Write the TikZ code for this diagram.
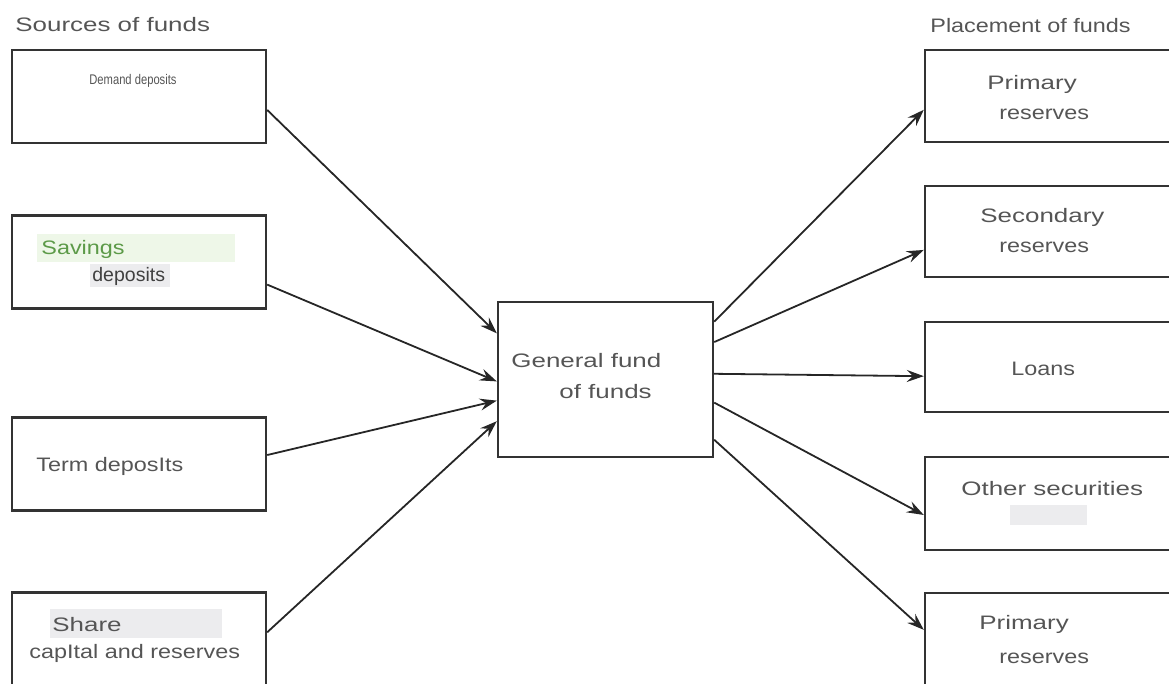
\documentclass[tikz,border=0pt]{standalone}
\usepackage{fontspec}
\usepackage{xcolor}
\usepackage{tikz}
\usetikzlibrary{arrows.meta}

\newfontfamily\lblfont[FakeStretch=1.33]{Liberation Sans}
\newfontfamily\lblnarrow[FakeStretch=1.2]{Liberation Sans}
\newfontfamily\lbltight[FakeStretch=1.0]{Liberation Sans}
\newfontfamily\tinyfont[FakeStretch=0.8]{Liberation Sans}
\definecolor{txtgray}{HTML}{555555}
\definecolor{savgreen}{HTML}{5C9A48}
\definecolor{hlgreen}{HTML}{EEF7E8}
\definecolor{hlgray}{HTML}{ECECEE}

\begin{document}
\begin{tikzpicture}[x=0.5pt,y=-0.5pt,
    box/.style={draw=black!80,line width=1.2pt,minimum width=127pt,minimum height=46.5pt},
    lbl/.style={inner sep=0pt,anchor=base west,text=txtgray,font=\lblfont\fontsize{9.75}{11}\selectfont},
    nlbl/.style={lbl,font=\lblnarrow\fontsize{9.75}{11}\selectfont},
    flow/.style={-{Stealth[length=8.5pt,width=6pt,inset=3pt]},line width=0.9pt,draw=black!85}]
    \useasboundingbox (0,0) rectangle (1169,684);
    \clip (0,0) rectangle (1169,684);

    % highlights
    \fill[hlgreen] (37,234) rectangle (235,262);
    \fill[hlgray] (90,264) rectangle (170,287);
    \fill[hlgray] (50,609) rectangle (222,638);
    \fill[hlgray] (1010,505) rectangle (1087,525);

    % sources
    \node[box] (s1) at (139,96.5) {};
    \node[box] (s2) at (139,262) {};
    \node[box] (s3) at (139,464) {};
    \node[box] (s4) at (139,639) {};

    % general fund
    \node[box,minimum width=107.5pt,minimum height=77.5pt] (g) at (605.5,379.5) {};

    % placement
    \node[box,minimum width=130pt,minimum height=46pt] (p1) at (1055,96) {};
    \node[box,minimum width=130pt,minimum height=45.5pt] (p2) at (1055,231.5) {};
    \node[box,minimum width=130pt,minimum height=45pt] (p3) at (1055,367) {};
    \node[box,minimum width=130pt,minimum height=46.5pt] (p4) at (1055,503.5) {};
    \node[box,minimum width=130pt,minimum height=46pt] (p5) at (1055,639) {};

    % labels
    \node[lbl] (tsrc) at (15,32) {Sources of funds};
    \node[nlbl] (tplc) at (930,33) {Placement of funds};
    \node[lbl,font=\tinyfont\fontsize{7}{8}\selectfont] (t1) at (89,85) {Demand deposits};
    \node[nlbl,text=savgreen] (t2a) at (41,255) {Savings};
    \node[lbl,text=black!75,font=\lbltight\fontsize{9.75}{11}\selectfont] (t2b) at (92,282) {deposits};
    \node[nlbl] (t3) at (36,472) {Term deposIts};
    \node[lbl] (t4a) at (52,632) {Share};
    \node[nlbl] (t4b) at (29,658) {capItal and reserves};
    \node[lbl] (tga) at (511,368) {General fund};
    \node[lbl] (tgb) at (559,399) {of funds};
    \node[lbl] (u1a) at (987,90) {Primary};
    \node[nlbl] (u1b) at (999,120) {reserves};
    \node[lbl] (u2a) at (980,223) {Secondary};
    \node[nlbl] (u2b) at (999,253) {reserves};
    \node[nlbl] (u3) at (1011,376) {Loans};
    \node[lbl] (u4) at (961,495) {Other securities};
    \node[lbl] (u5a) at (979,630) {Primary};
    \node[nlbl] (u5b) at (999,663) {reserves};

    % arrows in
    \draw[flow] (s1.-6) -- (g.157);
    \draw[flow] (s2.-10) -- (g.181);
    \draw[flow] (s3.4) -- (g.191);
    \draw[flow] (s4.3) -- (g.201);
    % arrows out
    \draw[flow] (g.28) -- (p1.186);
    \draw[flow] (g.19) -- (p2.188);
    \draw[flow] (g.3) -- (p3.184);
    \draw[flow] (g.-12) -- (p4.185);
    \draw[flow] (g.-29) -- (p5.176);
\end{tikzpicture}
\end{document}
